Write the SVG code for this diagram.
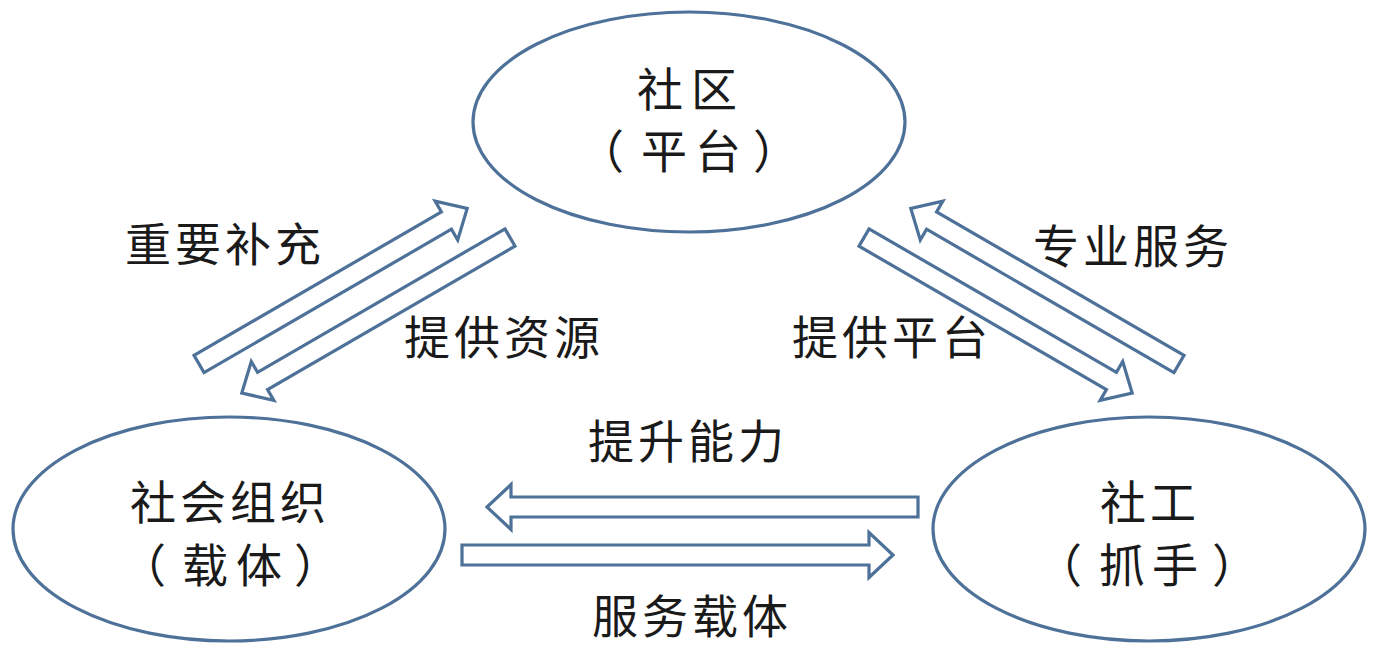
<svg xmlns="http://www.w3.org/2000/svg" xmlns:xlink="http://www.w3.org/1999/xlink" width="1378" height="649" viewBox="0 0 1378 649">
<style>
.node{fill:#ffffff;stroke:#4d7198;stroke-width:3.2}
.arr{fill:#ffffff;stroke:#4d7198;stroke-width:3.2;stroke-linejoin:miter}
.t{font-family:"Noto Sans CJK SC","Noto Sans CJK JP",sans-serif;font-size:46px;fill:#1a1a1a;text-anchor:middle;letter-spacing:4px}
.p{font-family:"Noto Sans CJK SC","Noto Sans CJK JP",sans-serif;font-size:46px;fill:#1a1a1a;text-anchor:start}
</style>
<defs>
<path id="diag" d="M0,-10 L286,-10 L286,-22.5 L310,0 L286,22.5 L286,10 L0,10 Z"/>
<path id="horz" d="M0,-10 L407,-10 L407,-22.5 L431,0 L407,22.5 L407,10 L0,10 Z"/>
</defs>
<rect width="1378" height="649" fill="#ffffff"/>
<g id="connectors">
<use xlink:href="#diag" class="arr" transform="translate(199,364) rotate(-30.1)"/>
<use xlink:href="#diag" class="arr" transform="translate(510,237.5) rotate(149.9)"/>
<use xlink:href="#diag" class="arr" transform="translate(864,237.5) rotate(30.1)"/>
<use xlink:href="#diag" class="arr" transform="translate(1179,364) rotate(-149.9)"/>
<use xlink:href="#horz" class="arr" transform="translate(918,507) rotate(180)"/>
<use xlink:href="#horz" class="arr" transform="translate(462,555)"/>
<text class="t" x="225" y="261">重要补充</text>
<text class="t" x="504" y="354">提供资源</text>
<text class="t" x="1133" y="263">专业服务</text>
<text class="t" x="892" y="354">提供平台</text>
<text class="t" x="688" y="458">提升能力</text>
<text class="t" x="692" y="633">服务载体</text>
</g>
<g id="node-shequ">
<ellipse class="node" cx="689" cy="122" rx="216" ry="110"/>
<text class="t" x="691" y="106" style="letter-spacing:8px">社区</text>
<text class="p" x="578 641 695 753" y="168">（平台）</text>
</g>
<g id="node-shehuizuzhi">
<ellipse class="node" cx="229" cy="529" rx="216" ry="112"/>
<text class="t" x="230" y="519">社会组织</text>
<text class="p" x="120 182 236 294" y="582">（载体）</text>
</g>
<g id="node-shegong">
<ellipse class="node" cx="1149" cy="529" rx="216" ry="112"/>
<text class="t" x="1150" y="519">社工</text>
<text class="p" x="1036 1099 1152 1212" y="582">（抓手）</text>
</g>
</svg>
